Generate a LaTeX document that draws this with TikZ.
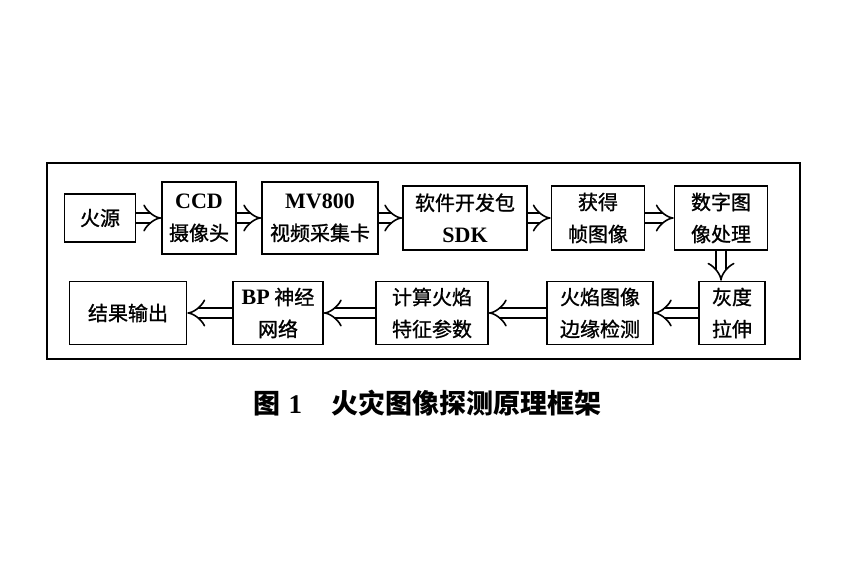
\documentclass[tikz,border=0pt]{standalone}
\usepackage{fontspec}
\setmainfont{Liberation Serif}
\newfontfamily\cjk[BoldFont={Noto Sans CJK SC}, BoldFeatures={FakeBold=1.1}]{Noto Sans CJK SC}
\newfontfamily\cjkcap{Noto Sans CJK SC}
\usepackage{tikz}
\usetikzlibrary{arrows.meta,positioning}

\newcommand{\en}[1]{{\rmfamily\bfseries\fontsize{22}{32}\selectfont #1}}

\begin{document}
\begin{tikzpicture}[x=1pt,y=-1pt,font=\cjk\bfseries\fontsize{20}{32}\selectfont]
        % Setup the styles for the boxes and arrows
        \tikzset{block/.style={draw,
                               line width=1.6pt,
                               align=center,
                               inner sep=0pt},
                 flow/.style={double,
                              double distance=8pt,
                              line width=1.6pt,
                              -{Implies[scale=1.15]}}}
        \useasboundingbox (0,0) rectangle (842,561);

        % Draw the frame
        \node[draw, line width=1.8pt, minimum width=753pt, minimum height=196pt] at (423.5,261) (frame) {};

        % Draw the boxes of the first row
        \node[block, minimum width=71pt,  minimum height=48pt] at (100,218) (source)  {火源};
        \node[block, minimum width=74pt,  minimum height=72pt] at (199,218) (camera)  {\en{CCD}\\摄像头};
        \node[block, minimum width=116pt, minimum height=72pt] at (320,218) (card)    {\en{MV800}\\视频采集卡};
        \node[block, minimum width=124pt, minimum height=64pt] at (465,218) (sdk)     {软件开发包\\\en{SDK}};
        \node[block, minimum width=93pt,  minimum height=64pt] at (598,218) (frames)  {获得\\帧图像};
        \node[block, minimum width=93pt,  minimum height=64pt] at (721,218) (process) {数字图\\像处理};

        % Draw the boxes of the second row
        \node[block, minimum width=66pt,  minimum height=63pt] at (732,313) (stretch) {灰度\\拉伸};
        \node[block, minimum width=106pt, minimum height=63pt] at (600,313) (edges)   {火焰图像\\边缘检测};
        \node[block, minimum width=112pt, minimum height=63pt] at (432,313) (params)  {计算火焰\\特征参数};
        \node[block, minimum width=90pt,  minimum height=63pt] at (278,313) (bpnet)   {\en{BP} 神经\\网络};
        \node[block, minimum width=117pt, minimum height=63pt] at (128,313) (result)  {结果输出};

        % Connect the boxes with arrows
        \draw[flow] (source)  -- (camera);
        \draw[flow] (camera)  -- (card);
        \draw[flow] (card)    -- (sdk);
        \draw[flow] (sdk)     -- (frames);
        \draw[flow] (frames)  -- (process);
        \draw[flow] (process.south) -- (process.south |- stretch.north);
        \draw[flow] (stretch) -- (edges);
        \draw[flow] (edges)   -- (params);
        \draw[flow] (params)  -- (bpnet);
        \draw[flow] (bpnet)   -- (result);

        % Caption
        \node[anchor=west, font=\cjkcap\bfseries\fontsize{27}{30}\selectfont] at (250,403) (caption)
            {图\hspace{0.3em}{\rmfamily\bfseries 1}\hspace{1.1em}火灾图像探测原理框架};
\end{tikzpicture}
\end{document}
